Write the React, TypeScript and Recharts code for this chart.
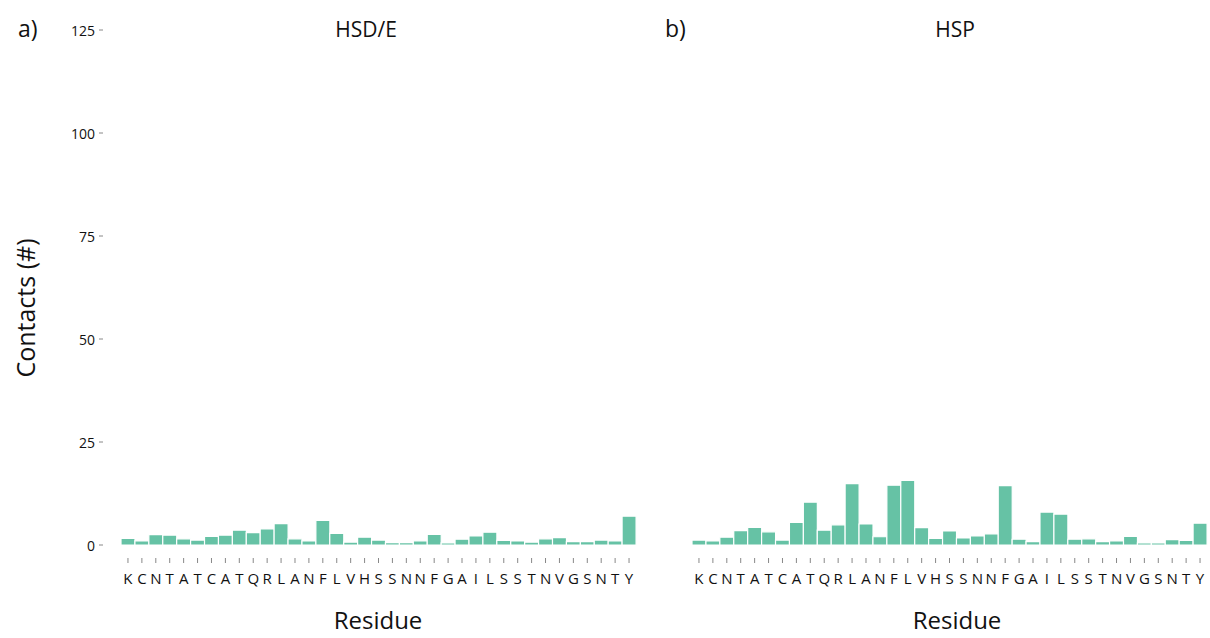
import React from "react";
import { BarChart, Bar, XAxis, YAxis } from "recharts";

const residues = ["K","C","N","T","A","T","C","A","T","Q","R","L","A","N","F","L","V","H","S","S","N","N","F","G","A","I","L","S","S","T","N","V","G","S","N","T","Y"];
const hsdValues = [1.6,1.0,2.5,2.4,1.5,1.2,2.1,2.4,3.6,3.0,3.9,5.2,1.5,1.0,6.0,2.8,0.7,1.9,1.2,0.6,0.6,1.0,2.6,0.5,1.4,2.2,3.1,1.1,1.0,0.7,1.5,1.8,0.8,0.8,1.2,1.0,7.0];
const hspValues = [1.2,1.0,1.9,3.5,4.3,3.2,1.2,5.5,10.4,3.6,4.9,14.9,5.1,2.0,14.5,15.7,4.2,1.6,3.4,1.7,2.2,2.7,14.4,1.4,0.8,8.0,7.5,1.4,1.5,0.8,1.0,2.1,0.5,0.5,1.3,1.1,5.3];
const yTicks = [0, 25, 50, 75, 100, 125];
const panelTitles = ["HSD/E", "HSP"];
const panelLetters = ["a)", "b)"];

const dataA = residues.map((r, i) => ({ id: i, res: r, v: hsdValues[i] }));
const dataB = residues.map((r, i) => ({ id: i, res: r, v: hspValues[i] }));

const FONT = "'Open Sans', 'Noto Sans', sans-serif";
const BAR = "#66c2a5";

const XTick = (props: any) => {
  const { x, y, payload } = props;
  return (
    <g>
      <line x1={x} x2={x} y1={y + 13} y2={y + 18} stroke="#888" strokeWidth={1} />
      <text x={x} y={y + 33} textAnchor="middle" dominantBaseline="central" fontSize={15} fontFamily={FONT} fill="#111">
        {residues[payload.value]}
      </text>
    </g>
  );
};

const YTick = (props: any) => {
  const { x, y, payload } = props;
  return (
    <g>
      <line x1={x - 22} x2={x - 18} y1={y} y2={y} stroke="#888" strokeWidth={1} />
      <text x={x - 26} y={y} textAnchor="end" dominantBaseline="central" fontSize={14} fontFamily={FONT} fill="#111">
        {payload.value}
      </text>
    </g>
  );
};

const H = 638;
const MARGIN_TOP = 30;
const XH = 93;

function Panel({ data, width, left, right, showY }: any) {
  return (
    <BarChart width={width} height={H} data={data} margin={{ top: MARGIN_TOP, right, bottom: 0, left }} barCategoryGap={0} barGap={0}>
      <XAxis dataKey="id" type="category" tick={<XTick />} tickLine={false} axisLine={false} tickSize={0} tickMargin={0} height={XH} interval={0} />
      <YAxis
        domain={[0, 125]}
        ticks={yTicks}
        tick={showY ? <YTick /> : false}
        tickLine={false}
        axisLine={false}
        tickSize={0}
        tickMargin={0}
        width={showY ? 121 : 0}
        hide={!showY}
        interval={0}
      />
      <Bar dataKey="v" fill={BAR} stroke="#ffffff" strokeWidth={1.2} isAnimationActive={false} />
    </BarChart>
  );
}

const textStyle: React.CSSProperties = { position: "absolute", fontFamily: FONT, color: "#111", whiteSpace: "nowrap", lineHeight: 1.2 };

export default function App() {
  return (
    <div style={{ position: "absolute", left: 0, top: 0, width: 1210, height: 638, background: "#fff", overflow: "hidden" }}>
      <div style={{ position: "absolute", left: 0, top: 0 }}>
        <Panel data={dataA} width={640} left={0} right={4} showY={true} />
      </div>
      <div style={{ position: "absolute", left: 640, top: 0 }}>
        <Panel data={dataB} width={570} left={52} right={3} showY={false} />
      </div>
      <div style={{ ...textStyle, left: 18, top: 15, fontSize: 23 }}>{panelLetters[0]}</div>
      <div style={{ ...textStyle, left: 665, top: 15, fontSize: 23 }}>{panelLetters[1]}</div>
      <div style={{ ...textStyle, left: 366, top: 17, fontSize: 21, transform: "translateX(-50%)" }}>{panelTitles[0]}</div>
      <div style={{ ...textStyle, left: 955, top: 17, fontSize: 21, transform: "translateX(-50%)" }}>{panelTitles[1]}</div>
      <div style={{ ...textStyle, left: 378, top: 606, fontSize: 24, transform: "translateX(-50%)" }}>Residue</div>
      <div style={{ ...textStyle, left: 957, top: 606, fontSize: 24, transform: "translateX(-50%)" }}>Residue</div>
      <div style={{ ...textStyle, left: 25, top: 308, fontSize: 25, transform: "translate(-50%, -50%) rotate(-90deg)" }}>Contacts (#)</div>
    </div>
  );
}
